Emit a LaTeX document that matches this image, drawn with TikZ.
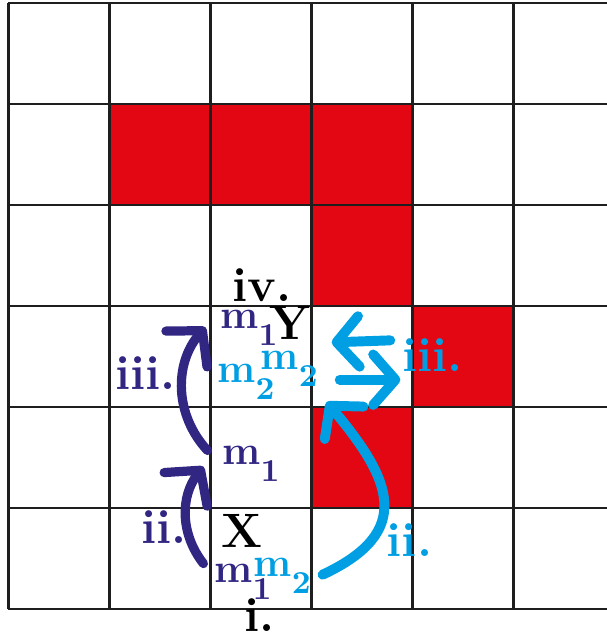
\documentclass[tikz,border=0pt]{standalone}
\usetikzlibrary{arrows.meta}
\definecolor{wall}{HTML}{E30613}
\definecolor{indigo}{HTML}{312783}
\definecolor{sky}{HTML}{009FE3}
\definecolor{rule}{HTML}{1E1E1E}
\newcommand{\rob}[1]{\textbf{m}\raisebox{-.42em}{\fontsize{9}{9}\selectfont\bfseries #1}}
\tikzset{
  wallcell/.style={fill=wall, draw=none},
  grd/.style     ={draw=rule, line width=.6pt},
  lbl/.style     ={font=\fontsize{13.6}{16}\selectfont\bfseries, inner sep=0pt},
  agt/.style     ={font=\fontsize{11.5}{14}\selectfont, inner sep=0pt, anchor=base west},
  mvone/.style   ={draw=indigo, line width=2.6pt, line cap=round, -{Straight Barb[length=2.4mm,width=5.4mm,round]}},
  mvtwo/.style   ={draw=sky,    line width=2.8pt, line cap=round, -{Straight Barb[length=2.2mm,width=5mm,round]}},
}
\begin{document}
\begin{tikzpicture}
    \useasboundingbox (-0.084,-0.277) rectangle (5.916,6.03);
    \foreach \c/\r in {1/4,2/4,3/4,3/3,4/2,3/1}
      \fill[wallcell] (\c,\r) rectangle ++(1,1);
    \draw[grd] (0,0) grid (6,6);

    \node[lbl] (stepiv) at (2.51,3.21) {iv.};
    \node[lbl] (goal) at (2.79,2.83) {Y};
    \node[lbl] (start) at (2.31,0.77) {X};
    \node[lbl] (stepi) at (2.49,-0.06) {i.};

    \node[agt,indigo] (ma) at (2.03,0.26) {\rob{1}};
    \node[agt,sky] (mb) at (2.42,0.32) {\rob{2}};
    \node[agt,indigo] (mc) at (2.11,1.43) {\rob{1}};
    \node[agt,indigo] (md) at (2.09,2.78) {\rob{1}};
    \node[agt,sky] (me) at (2.06,2.24) {\rob{2}};
    \node[agt,sky] (mf) at (2.49,2.37) {\rob{2}};

    \node[lbl,indigo] (iia) at (1.54,0.81) {ii.};
    \node[lbl,indigo] (iiia) at (1.36,2.34) {iii.};
    \node[lbl,sky] (iib) at (3.97,0.68) {ii.};
    \node[lbl,sky] (iiib) at (4.20,2.51) {iii.};

    \coordinate (a0) at (1.93,0.45);
    \coordinate (a1) at (1.93,1.41);
    \coordinate (a2) at (1.97,1.57);
    \coordinate (a3) at (1.95,2.79);
    \coordinate (b0) at (3.11,0.34);
    \coordinate (b1) at (3.15,2.05);
    \coordinate (b2) at (3.78,2.66);
    \coordinate (b3) at (3.20,2.64);
    \coordinate (b4) at (3.28,2.27);
    \coordinate (b5) at (3.88,2.27);

    \draw[mvone] (a0) to[bend left=38] (a1);
    \draw[mvone] (a2) to[bend left=42] (a3);
    \draw[mvtwo] (b0) to[out=25,in=-50,looseness=1.5] (b1);
    \draw[mvtwo] (b2) -- (b3);
    \draw[mvtwo] (b4) -- (b5);
  \end{tikzpicture}
\end{document}
